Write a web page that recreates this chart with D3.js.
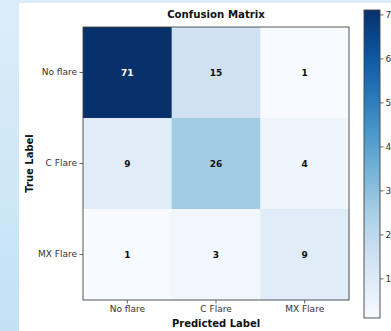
<!DOCTYPE html>
<html><head><meta charset="utf-8">
<script src="https://cdn.jsdelivr.net/npm/d3@7"></script>
<style>
html,body{margin:0;padding:0;background:#fff;}
svg{display:block;font-family:"DejaVu Sans",sans-serif;}
</style></head>
<body>
<svg id="chart" width="391" height="331"></svg>
<script>
const predictedLabels = ["No flare", "C Flare", "MX Flare"];
const trueLabels = ["No flare", "C Flare", "MX Flare"];
const rowNoFlare = [71, 15, 1];
const rowCFlare = [9, 26, 4];
const rowMXFlare = [1, 3, 9];
const colorbarTicks = [10, 20, 30, 40, 50, 60, 70];
const titleText = "Confusion Matrix";
const xTitle = "Predicted Label";
const yTitle = "True Label";

const matrix = [rowNoFlare, rowCFlare, rowMXFlare];
const cells = [];
matrix.forEach((row, i) => row.forEach((v, j) => cells.push({r: trueLabels[i], c: predictedLabels[j], v})));
const vmin = d3.min(cells, d => d.v), vmax = d3.max(cells, d => d.v);

const svg = d3.select("#chart");
const defs = svg.append("defs");

// page background (screenshot surround)
const bg = defs.append("linearGradient").attr("id","bgGrad").attr("x1",0).attr("y1",0).attr("x2",0).attr("y2",1);
bg.append("stop").attr("offset","0%").attr("stop-color","#dcedf9");
bg.append("stop").attr("offset","100%").attr("stop-color","#c2e2f4");
svg.append("rect").attr("width",391).attr("height",331).attr("fill","url(#bgGrad)");
svg.append("rect").attr("x",19).attr("y",3).attr("width",372).attr("height",328).attr("fill","#fff");

const L = 83, R = 349, T = 27, B = 300;
const x = d3.scaleBand().domain(predictedLabels).range([L, R]);
const y = d3.scaleBand().domain(trueLabels).range([T, B]);
const color = d3.scaleSequential(d3.interpolateBlues).domain([vmin, vmax]);

svg.append("g").selectAll("rect").data(cells).join("rect")
  .attr("x", d => x(d.c)).attr("y", d => y(d.r))
  .attr("width", x.bandwidth() + 0.5).attr("height", y.bandwidth() + 0.5)
  .attr("fill", d => color(d.v));

svg.append("g").selectAll("text").data(cells).join("text")
  .attr("x", d => x(d.c) + x.bandwidth()/2).attr("y", d => y(d.r) + y.bandwidth()/2)
  .attr("text-anchor","middle").attr("dominant-baseline","central")
  .attr("font-size","9px").attr("font-weight","bold")
  .attr("fill", d => d.v > (vmax + vmin)/2 ? "#fff" : "#111")
  .text(d => d.v);

svg.append("rect").attr("x",L).attr("y",T).attr("width",R-L).attr("height",B-T)
  .attr("fill","none").attr("stroke","#444").attr("stroke-width",0.9);

// axes
const xAxis = svg.append("g").attr("transform",`translate(0,${B})`)
  .call(d3.axisBottom(x).tickSize(3.5).tickPadding(2.5));
const yAxis = svg.append("g").attr("transform",`translate(${L},0)`)
  .call(d3.axisLeft(y).tickSize(3.5).tickPadding(2.5));
[xAxis, yAxis].forEach(g => {
  g.select(".domain").remove();
  g.selectAll("line").attr("stroke","#444").attr("stroke-width",0.8);
  g.selectAll("text").attr("font-size","9px").attr("fill","#333").attr("font-family","DejaVu Sans");
});

// titles
svg.append("text").attr("x",(L+R)/2).attr("y",18).attr("text-anchor","middle")
  .attr("font-size","10.2px").attr("font-weight","bold").attr("fill","#111").text(titleText);
svg.append("text").attr("x",(L+R)/2).attr("y",327).attr("text-anchor","middle")
  .attr("font-size","10px").attr("font-weight","bold").attr("fill","#111").text(xTitle);
svg.append("text").attr("transform",`translate(33,${(T+B)/2}) rotate(-90)`).attr("text-anchor","middle")
  .attr("font-size","10px").attr("font-weight","bold").attr("fill","#111").text(yTitle);

// colorbar
const cbX = 364, cbW = 16, cbT = 10, cbB = 318;
const cg = defs.append("linearGradient").attr("id","cbGrad").attr("x1",0).attr("y1",1).attr("x2",0).attr("y2",0);
d3.range(0, 1.0001, 0.05).forEach(t => cg.append("stop").attr("offset", (t*100)+"%").attr("stop-color", d3.interpolateBlues(t)));
svg.append("rect").attr("x",cbX).attr("y",cbT).attr("width",cbW).attr("height",cbB-cbT).attr("fill","url(#cbGrad)")
  .attr("stroke","#444").attr("stroke-width",0.9);
const cy = d3.scaleLinear().domain([vmin, vmax]).range([cbB, cbT]);
const cAxis = svg.append("g").attr("transform",`translate(${cbX+cbW},0)`)
  .call(d3.axisRight(cy).tickValues(colorbarTicks).tickSize(3.5).tickPadding(2));
cAxis.select(".domain").remove();
cAxis.selectAll("line").attr("stroke","#444").attr("stroke-width",0.8);
cAxis.selectAll("text").attr("font-size","9px").attr("fill","#333").attr("font-family","DejaVu Sans");
</script>
</body></html>
